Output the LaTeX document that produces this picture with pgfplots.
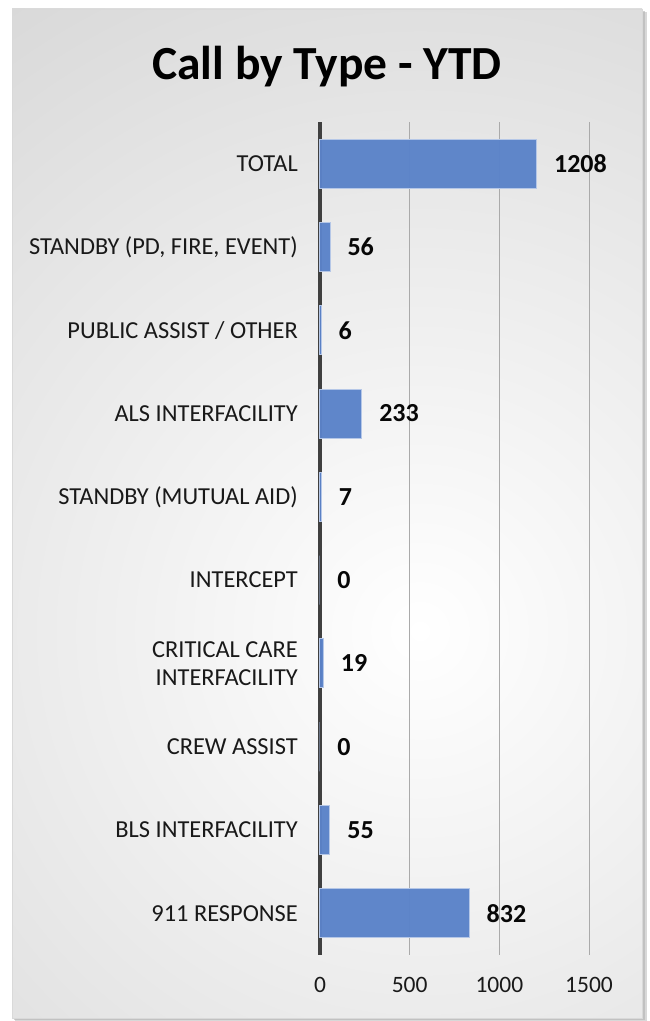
\documentclass[border=0pt]{standalone}
\usepackage{pgfplots}
\pgfplotsset{compat=1.18}
\usepackage{fontspec}
\setmainfont{Carlito}
\definecolor{barc}{RGB}{91,131,201}
\definecolor{axc}{RGB}{64,64,64}
\definecolor{gridc}{RGB}{170,170,170}
\definecolor{bgout}{RGB}{194,194,194}
\begin{document}
\begin{tikzpicture}[x=1pt,y=1pt]
\path (0,0) rectangle (649,1021);
% shadow
\fill[black!30,opacity=0.5] (15,0) rectangle (647,1009);
\fill[black!30,opacity=0.6] (14,1) rectangle (645,1010);
% background
\begin{scope}
\clip (12,3) rectangle (642,1012);
\fill[bgout] (12,3) rectangle (642,1012);
\shade[inner color=white, outer color=bgout] (420,390) circle (1200);
\end{scope}
\draw[black!15,line width=0.6pt] (12,3) rectangle (642,1012);
% title
\node[anchor=base,font=\fontsize{47.5}{57}\selectfont\bfseries] at (327,941) {Call by Type - YTD};
\begin{axis}[
  at={(320pt,66pt)}, anchor=south west,
  scale only axis, width=269pt, height=833pt,
  xmin=0, xmax=1500, ymin=-0.5, ymax=9.5,
  xbar, bar width=49pt,
  axis lines*=left,
  axis line style={-},
  x axis line style={draw=none},
  y axis line style={line width=3.2pt, draw=axc},
  xmajorgrids, grid style={gridc, line width=0.8pt},
  major tick length=0pt,
  xtick={0,500,1000,1500},
  ytick={0,1,2,3,4,5,6,7,8,9},
  yticklabels={911 RESPONSE, BLS INTERFACILITY, CREW ASSIST, {CRITICAL CARE\\INTERFACILITY}, INTERCEPT, STANDBY (MUTUAL AID), ALS INTERFACILITY, PUBLIC ASSIST / OTHER, {STANDBY (PD, FIRE, EVENT)}, TOTAL},
  /pgf/number format/assume math mode=true,
  /pgf/number format/1000 sep={},
  xticklabel style={font=\fontsize{23.5}{28}\selectfont, inner sep=0pt, yshift=-22pt, text=black!90},
  yticklabel style={font=\fontsize{24.4}{28.5}\selectfont, inner sep=0pt, xshift=-22pt, align=right, text=black!90},
  point meta=x,
  nodes near coords,
  nodes near coords style={font=\fontsize{26}{30}\selectfont\bfseries, anchor=west, inner sep=0pt, xshift=17pt, text=black},
  clip=false,
]
\addplot[fill=barc, draw=white!55!barc, line width=1pt, fill opacity=0.97] coordinates {
(832,0) (55,1) (0,2) (19,3) (0,4) (7,5) (233,6) (6,7) (56,8) (1208,9)
};
\end{axis}
\end{tikzpicture}
\end{document}
